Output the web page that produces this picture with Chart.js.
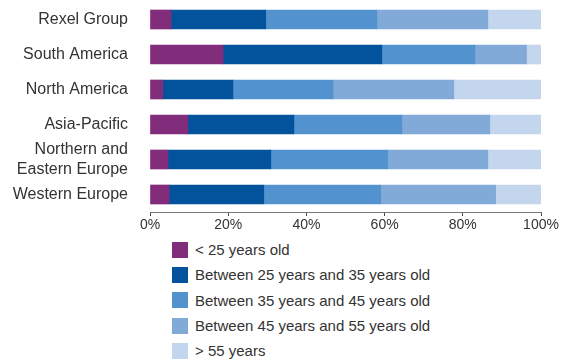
<!DOCTYPE html>
<html>
<head>
<meta charset="utf-8">
<title>Workforce by age</title>
<script src="https://cdn.jsdelivr.net/npm/chart.js"></script>
<style>
  body { margin: 0; background: #fff; font-family: "Liberation Sans", Arial, sans-serif; }
  #wrap { position: relative; width: 564px; height: 235px; }
  #legend { list-style: none; margin: 0; padding: 0; position: absolute; left: 172px; top: 237px; }
  #legend li { height: 25.3px; display: flex; align-items: center; font-size: 15px; color: #333; }
  #legend span.box { width: 16px; height: 16px; margin-right: 7px; display: inline-block; }
</style>
</head>
<body>
<div id="wrap"><canvas id="ageChart"></canvas></div>
<ul id="legend"></ul>

<script>
  // regions and share of employees per age band (%)
  const regions = ['Rexel Group', 'South America', 'North America', 'Asia-Pacific', ['Northern and', 'Eastern Europe'], 'Western Europe'];
  const under25 = [5.4, 18.7, 3.3, 9.7, 4.6, 4.9];
  const from25to35 = [24.2, 40.6, 17.9, 27.1, 26.3, 24.2];
  const from35to45 = [28.4, 23.8, 25.6, 27.6, 29.9, 29.9];
  const from45to55 = [28.4, 13.2, 30.9, 22.5, 25.6, 29.4];
  const over55 = [13.6, 3.7, 22.3, 13.1, 13.6, 11.6];
  const xTicks = [0, 20, 40, 60, 80, 100];

  const bands = [
    { label: '< 25 years old', data: under25, color: '#812d7b' },
    { label: 'Between 25 years and 35 years old', data: from25to35, color: '#03539c' },
    { label: 'Between 35 years and 45 years old', data: from35to45, color: '#5192cf' },
    { label: 'Between 45 years and 55 years old', data: from45to55, color: '#81aad8' },
    { label: '> 55 years', data: over55, color: '#c4d5ee' }
  ];

  // drop the label half-height padding chart.js adds around axes
  const noPad = s => { s.paddingTop = 0; s.paddingBottom = 0; s.paddingLeft = 0; s.paddingRight = 0; };

  new Chart(document.getElementById('ageChart'), {
    type: 'bar',
    data: {
      labels: regions,
      datasets: bands.map(b => ({
        label: b.label,
        data: b.data,
        backgroundColor: b.color,
        borderWidth: 0,
        barThickness: 19
      }))
    },
    options: {
      indexAxis: 'y',
      responsive: true,
      maintainAspectRatio: false,
      animation: false,
      layout: { padding: { top: 2, right: 23, left: 0, bottom: 0 } },
      plugins: { legend: { display: false }, tooltip: { enabled: false } },
      scales: {
        x: {
          stacked: true,
          min: 0,
          max: 100,
          afterBuildTicks: s => { s.ticks = xTicks.map(v => ({ value: v })); },
          afterFit: s => { noPad(s); s.height = 23; },
          border: { color: '#777', width: 1 },
          grid: { drawOnChartArea: false, tickLength: 4, color: '#444' },
          ticks: {
            padding: 1,
            color: '#333',
            font: { family: 'Liberation Sans', size: 14 },
            callback: v => v + '%'
          }
        },
        y: {
          stacked: true,
          afterFit: s => { noPad(s); s.width = 150; },
          border: { display: false },
          grid: { display: false, drawTicks: false },
          ticks: {
            autoSkip: false,
            padding: 22,
            color: '#333',
            font: { family: 'Liberation Sans', size: 16, lineHeight: 1.2 }
          }
        }
      }
    }
  });

  // vertical legend under the chart
  const legend = document.getElementById('legend');
  bands.forEach(b => {
    const li = document.createElement('li');
    li.innerHTML = '<span class="box" style="background:' + b.color + '"></span>' + b.label;
    legend.appendChild(li);
  });
</script>
</body>
</html>
